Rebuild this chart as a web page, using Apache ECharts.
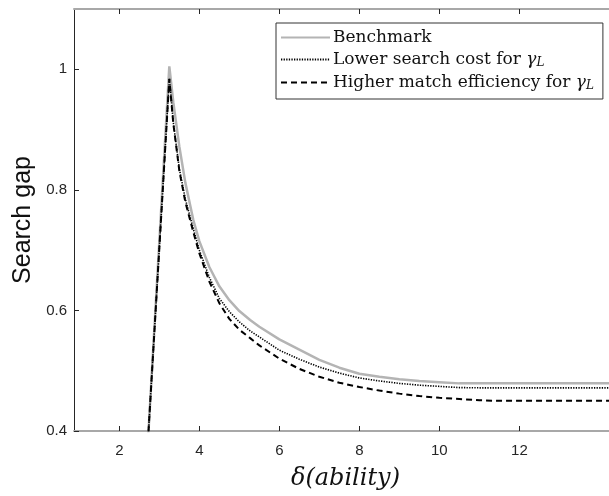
<!DOCTYPE html>
<html>
<head>
<meta charset="utf-8">
<script src="https://cdn.jsdelivr.net/npm/echarts@6/dist/echarts.min.js"></script>
<style>html,body{margin:0;padding:0;background:#fff}#c{width:609px;height:496px}</style>
</head>
<body>
<div id="c"></div>
<script>
// ---- data ----
const xs          = [2.7,   3.25,  3.35,  3.5,   3.65,  3.85,  4.0,   4.25,  4.5,   4.75,  5.0,   5.27,  5.5,   6.0,   6.5,   7.0,   7.5,   8.0,   8.5,   9.0,   9.5,   10.0,  10.5,  11.0,  11.5,  12.0,  13.0,  14.0,  14.5];
const benchmark   = [0.365, 1.005, 0.945, 0.872, 0.812, 0.750, 0.715, 0.672, 0.640, 0.617, 0.599, 0.584, 0.573, 0.552, 0.535, 0.518, 0.505, 0.495, 0.490, 0.486, 0.483, 0.481, 0.479, 0.479, 0.479, 0.479, 0.479, 0.479, 0.479];
const lowerCost   = [0.366, 0.985, 0.912, 0.835, 0.785, 0.735, 0.700, 0.655, 0.620, 0.598, 0.581, 0.566, 0.556, 0.534, 0.519, 0.506, 0.496, 0.488, 0.483, 0.479, 0.476, 0.474, 0.472, 0.4716,0.4716,0.4716,0.4716,0.4716,0.4716];
const higherMatch = [0.366, 0.984, 0.910, 0.832, 0.780, 0.730, 0.695, 0.648, 0.612, 0.586, 0.568, 0.554, 0.542, 0.520, 0.503, 0.490, 0.480, 0.473, 0.467, 0.462, 0.458, 0.455, 0.453, 0.451, 0.450, 0.450, 0.450, 0.450, 0.450];
const xTicks = [2, 4, 6, 8, 10, 12];
const yTicks = [0.4, 0.6, 0.8, 1];
const names = ['Benchmark', 'Lower search cost for ', 'Higher match efficiency for '];

const pairs = arr => xs.map((x, i) => [x, arr[i]]);

const chart = echarts.init(document.getElementById('c'), null, {renderer: 'canvas'});
const sans = "'Liberation Sans', Arial, sans-serif";
const serif = "'DejaVu Serif', 'Liberation Serif', serif";
const tickFont = {fontFamily: sans, fontSize: 15, color: '#262626'};
const xMin = 0.8675, xMax = 14.24;
chart.setOption({
  animation: false,
  backgroundColor: '#fff',
  grid: {left: 74, top: 9, right: 0, bottom: 63, containLabel: false},
  legend: {
    orient: 'vertical', left: 276, top: 23,
    itemWidth: 49, itemHeight: 14, itemGap: 5,
    padding: [6, 9, 7, 4],
    borderColor: '#333', borderWidth: 1,
    backgroundColor: '#fff',
    itemStyle: {opacity: 0},
    data: names,
    formatter: function (n) {
      if (n === names[0]) return n;
      return n + '{g|γ}{s|L}';
    },
    textStyle: {
      fontFamily: serif, fontSize: 17, color: '#111', padding: [0,0,0,-2],
      rich: {
        g: {fontFamily: serif, fontStyle: 'italic', fontSize: 17, color: '#111'},
        s: {fontFamily: serif, fontStyle: 'italic', fontSize: 12, color: '#111', verticalAlign: 'bottom', padding: [7,0,0,0]}
      }
    }
  },
  xAxis: [{
    type: 'value', min: xMin, max: xMax,
    axisLine: {show: true, lineStyle: {color: '#a8a8a8', width: 2}},
    axisTick: {show: true, inside: true, length: 5, customValues: xTicks, lineStyle: {color: '#262626', width: 1}},
    axisLabel: {customValues: xTicks, margin: 12, ...tickFont},
    splitLine: {show: false},
    name: 'δ(ability)', nameLocation: 'middle', nameGap: 36,
    nameTextStyle: {fontFamily: serif, fontStyle: 'italic', fontSize: 24, color: '#111', padding: [0, 0, 0, 8]}
  }, {
    type: 'value', min: xMin, max: xMax, position: 'top',
    axisLine: {show: true, lineStyle: {color: '#a8a8a8', width: 2}},
    axisTick: {show: true, inside: true, length: 5, customValues: xTicks, lineStyle: {color: '#262626'}},
    axisLabel: {show: false}, splitLine: {show: false}
  }],
  yAxis: [{
    type: 'value', min: 0.4, max: 1.1,
    axisLine: {show: true, lineStyle: {color: '#262626', width: 1}},
    axisTick: {show: true, inside: true, length: 5, customValues: yTicks, lineStyle: {color: '#262626'}},
    axisLabel: {customValues: yTicks, margin: 7, ...tickFont, formatter: v => String(v)},
    splitLine: {show: false},
    name: 'Search gap', nameLocation: 'middle', nameGap: 36, nameRotate: 90,
    nameTextStyle: {fontFamily: sans, fontSize: 25, color: '#111'}
  }],
  series: [
    {name: names[0], type: 'line', data: pairs(benchmark), showSymbol: false, symbol: 'none', clip: true,
     lineStyle: {color: '#b4b4b4', width: 2.5}, itemStyle: {color: '#b4b4b4'}, z: 2},
    {name: names[1], type: 'line', data: pairs(lowerCost), showSymbol: false, symbol: 'none', clip: true,
     lineStyle: {color: '#000', width: 1.6, type: [1.3, 1.3]}, itemStyle: {color: '#000'}, z: 3},
    {name: names[2], type: 'line', data: pairs(higherMatch), showSymbol: false, symbol: 'none', clip: true,
     lineStyle: {color: '#000', width: 2, type: [6, 4]}, itemStyle: {color: '#000'}, z: 4}
  ]
});
</script>
</body>
</html>
